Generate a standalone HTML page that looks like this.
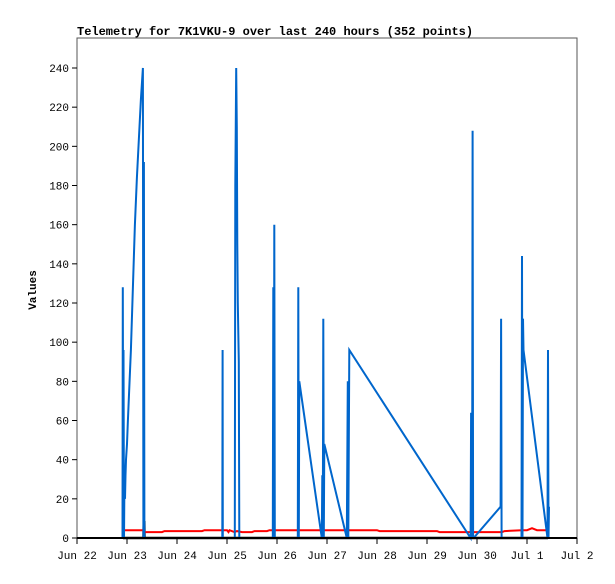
<!DOCTYPE html>
<html><head><meta charset="utf-8"><style>
body{margin:0;background:#fff}
svg text{font-family:"Liberation Mono",monospace;font-size:11px;fill:#000}
</style></head><body>
<svg width="615" height="579" xmlns="http://www.w3.org/2000/svg">
<rect width="615" height="579" fill="#fff"/>
<text x="77" y="35" style="font-weight:bold;font-size:12px">Telemetry for 7K1VKU-9 over last 240 hours (352 points)</text>
<text transform="translate(36,290) rotate(-90)" text-anchor="middle" style="font-weight:bold">Values</text>
<g id="plot"></g>
</svg>
<script>
const xTickLabels=["Jun 22","Jun 23","Jun 24","Jun 25","Jun 26","Jun 27","Jun 28","Jun 29","Jun 30","Jul 1","Jul 2"];
const yTicks=[0,20,40,60,80,100,120,140,160,180,200,220,240];
const blueDays=[0.909,0.915,0.925,0.931,0.939,0.949,0.959,0.969,0.979,0.999,1.019,1.039,1.059,1.079,1.099,1.119,1.139,1.159,1.179,1.199,1.239,1.279,1.319,1.329,1.339,1.349,
2.907,2.912,2.917,3.157,3.167,3.183,3.197,3.207,3.217,3.237,3.247,
3.916,3.926,3.936,3.946,3.956,4.416,4.426,4.436,4.446,
4.895,4.905,4.915,4.925,4.935,4.945,5.395,5.405,5.415,5.425,5.445,
7.872,7.882,7.892,7.902,7.912,7.922,7.932,8.472,8.482,8.492,
8.891,8.901,8.911,8.921,8.931,9.411,9.421,9.431,9.441];
const blueValues=[0,128,0,96,0,32,20,32,40,48,60,72,84,96,112,128,144,160,172,184,204,224,240,0,192,0,
0,96,0,0,180,240,210,150,120,90,0,
0,128,0,160,0,0,128,0,80,
0,32,0,112,0,48,0,40,80,0,96,
0,64,0,0,208,0,0,16,112,0,
0,144,0,112,96,0,96,0,16];
const redDays=[0.94,1.33,1.35,1.7,1.75,2.5,2.55,3.0,3.03,3.05,3.15,3.2,3.3,3.5,3.55,3.8,3.85,6.0,6.05,7.2,7.25,8.5,8.55,8.9,9.0,9.1,9.2,9.42];
const redValues=[4,4,3,3,3.5,3.5,4,4,3,4,3,3.5,3,3,3.5,3.5,4,4,3.5,3.5,3,3,3.5,4,4,5,4,4];
const blackDays=[0.92,1.33,1.335,1.345,1.35,9.42];
const blackValues=[0,0,8,8,0,0];
const L=77,R=577,T=38,B=538,Y240=68;
const X=d=>L+d*(R-L)/10;
const Y=v=>B-v*(B-Y240)/240;
const NS="http://www.w3.org/2000/svg";
const g=document.getElementById('plot');
function mk(tag,attrs){const e=document.createElementNS(NS,tag);for(const k in attrs)e.setAttribute(k,attrs[k]);g.appendChild(e);return e;}
const frame=mk('rect',{x:L,y:T,width:R-L,height:B-T,fill:'none',stroke:'#555','stroke-width':1});


yTicks.forEach(v=>{
 const t=mk('line',{x1:L-5,x2:L,y1:Y(v),y2:Y(v),stroke:'#000','stroke-width':1});
 
 
 const tx=mk('text',{x:L-8,y:Y(v)+4,'text-anchor':'end'});tx.textContent=v;
 
 
});
xTickLabels.forEach((s,i)=>{
 const t=mk('line',{x1:X(i),x2:X(i),y1:B,y2:B+6,stroke:'#000','stroke-width':1});
 
 
 const tx=mk('text',{x:X(i),y:B+21,'text-anchor':'middle'});tx.textContent=s;
 
 
});
function series(days,vals,color,w,name){
 const p=mk('polyline',{points:days.map((d,i)=>X(d).toFixed(1)+','+Y(vals[i]).toFixed(1)).join(' '),fill:'none',stroke:color,'stroke-width':w,'stroke-linejoin':'miter'});
 
 
}
series(blackDays,blackValues,'#000',2.5,'series-black');
series(redDays,redValues,'#f00',2,'series-red');
series(blueDays,blueValues,'#0066cc',2,'series-blue');
const ax=mk('line',{x1:L,x2:R,y1:B,y2:B,stroke:'#000','stroke-width':2});


</script>
</body></html>
